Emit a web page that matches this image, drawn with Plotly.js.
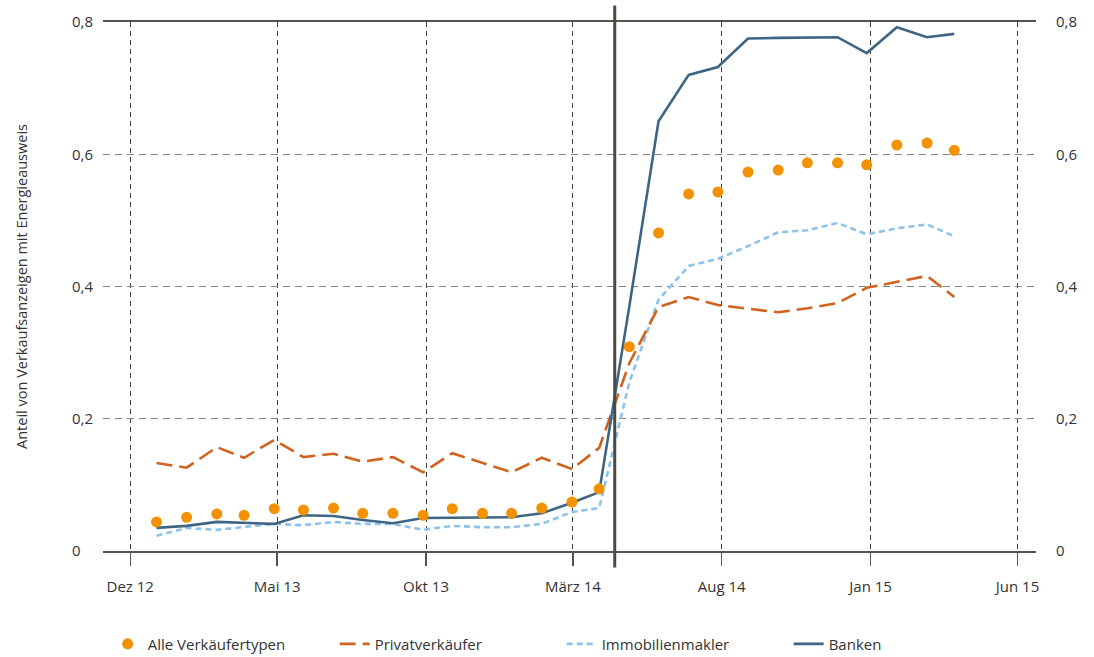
<!DOCTYPE html>
<html>
<head>
<meta charset="utf-8">
<script src="https://cdn.plot.ly/plotly-3.0.1.min.js"></script>
<style>html,body{margin:0;padding:0;background:#fff}#chart{width:1094px;height:657px}</style>
</head>
<body>
<div id="chart"></div>
<script>
// Monthly observations, Dec 2012 – Mar 2015
const months = ["2012-12-28","2013-01-28","2013-02-28","2013-03-28","2013-04-28","2013-05-28","2013-06-28","2013-07-28","2013-08-28","2013-09-28","2013-10-28","2013-11-28","2013-12-28","2014-01-28","2014-02-28","2014-03-28","2014-04-28","2014-05-28","2014-06-28","2014-07-28","2014-08-28","2014-09-28","2014-10-28","2014-11-28","2014-12-28","2015-01-28","2015-02-28","2015-03-28"];

const alleVerkaeufertypen = [0.044,0.051,0.056,0.054,0.064,0.062,0.065,0.057,0.057,0.054,0.064,0.057,0.057,0.065,0.074,0.094,0.309,0.481,0.540,0.543,0.573,0.576,0.587,0.587,0.584,0.614,0.617,0.606];
const privatverkaeufer = [0.133,0.126,0.157,0.141,0.168,0.142,0.147,0.135,0.142,0.119,0.148,0.133,0.119,0.141,0.124,0.156,0.284,0.369,0.384,0.372,0.367,0.361,0.367,0.375,0.398,0.407,0.416,0.384];
const immobilienmakler = [0.023,0.035,0.032,0.036,0.041,0.039,0.044,0.041,0.041,0.032,0.038,0.036,0.036,0.041,0.059,0.065,0.255,0.380,0.431,0.442,0.461,0.482,0.485,0.496,0.479,0.488,0.494,0.476];
const banken = [0.035,0.038,0.044,0.043,0.041,0.054,0.053,0.047,0.042,0.050,0.050,0.050,0.051,0.057,0.073,0.089,0.370,0.650,0.720,0.732,0.775,0.776,0.777,0.777,0.753,0.792,0.777,0.782];

const seriesNames = ["Alle Verkäufertypen","Privatverkäufer","Immobilienmakler","Banken"];

const xTickVals = ["2012-12-01","2013-05-01","2013-10-01","2014-03-01","2014-08-01","2015-01-01","2015-06-01"];
const xTickText = ["Dez 12","Mai 13","Okt 13","März 14","Aug 14","Jan 15","Jun 15"];
const yTickVals = [0,0.2,0.4,0.6,0.8];
const yTickTextLeft = ["0\u2008\u2007","0,2","0,4","0,6","0,8"];
const yTickTextRight = ["0","0,2","0,4","0,6","0,8"];
const eventDate = "2014-04-13";
const yTitle = "Anteil von Verkaufsanzeigen mit Energieausweis";

const FONT = "Open Sans, Noto Sans, sans-serif";
const TXT = "#333333";

const traces = [
  {x: months, y: immobilienmakler, name: seriesNames[2], mode: "lines", legendrank: 3,
   line: {color: "#8cc3ea", width: 2.6, dash: "6px,4px"}, hoverinfo: "skip"},
  {x: months, y: privatverkaeufer, name: seriesNames[1], mode: "lines", legendrank: 2,
   line: {color: "#d0631f", width: 2.6, dash: "16px,7px"}, hoverinfo: "skip"},
  {x: months, y: banken, name: seriesNames[3], mode: "lines", legendrank: 4,
   line: {color: "#3e6584", width: 2.6}, hoverinfo: "skip"},
  {x: months, y: alleVerkaeufertypen, name: seriesNames[0], mode: "markers", legendrank: 1,
   marker: {color: "#f39200", size: 11}, hoverinfo: "skip"},
  {x: months, y: banken, yaxis: "y2", mode: "lines", showlegend: false, hoverinfo: "skip",
   line: {color: "rgba(0,0,0,0)", width: 0}}
];

const layout = {
  width: 1094, height: 657,
  margin: {l: 103, r: 58, t: 22, b: 106, autoexpand: false},
  paper_bgcolor: "#ffffff", plot_bgcolor: "#ffffff",
  font: {family: FONT, size: 15, color: TXT},
  showlegend: true,
  legend: {orientation: "h", x: 0.005, xanchor: "left", y: -0.176, yanchor: "middle",
           font: {family: FONT, size: 15, color: TXT}, entrywidth: 182, entrywidthmode: "pixels",
           traceorder: "normal"},
  xaxis: {
    type: "date", range: ["2012-11-03", "2015-06-20"],
    tickmode: "array", tickvals: xTickVals, ticktext: xTickText,
    showgrid: true, gridcolor: "#3f3f3f", gridwidth: 1, griddash: "5px,4px",
    showline: true, linecolor: "#55554f", linewidth: 1.6, mirror: true,
    ticks: "outside", ticklen: 13, tickwidth: 1.4, tickcolor: "#55554f",
    ticklabelstandoff: 8,
    tickfont: {family: FONT, size: 15, color: TXT},
    zeroline: false, fixedrange: true
  },
  yaxis: {
    range: [0, 0.8], tickmode: "array", tickvals: yTickVals, ticktext: yTickTextLeft,
    showgrid: true, gridcolor: "#858585", gridwidth: 1.4, griddash: "7px,5px",
    showline: false, zeroline: false, ticks: "", ticklabelstandoff: 9,
    tickfont: {family: FONT, size: 15, color: TXT},
    title: {text: yTitle, font: {family: FONT, size: 14.5, color: TXT}, standoff: 40},
    fixedrange: true
  },
  yaxis2: {
    range: [0, 0.8], overlaying: "y", side: "right", anchor: "x",
    tickmode: "array", tickvals: yTickVals, ticktext: yTickTextRight,
    showgrid: false, showline: false, zeroline: false, ticks: "", ticklabelstandoff: 19,
    tickfont: {family: FONT, size: 15, color: TXT}, fixedrange: true
  },
  shapes: [
    {type: "line", xref: "x", yref: "paper", x0: eventDate, x1: eventDate, y0: -0.031, y1: 1.031,
     line: {color: "#4a4a44", width: 3}, layer: "above"}
  ]
};

Plotly.newPlot("chart", traces, layout, {displayModeBar: false, staticPlot: true});
</script>
</body>
</html>
